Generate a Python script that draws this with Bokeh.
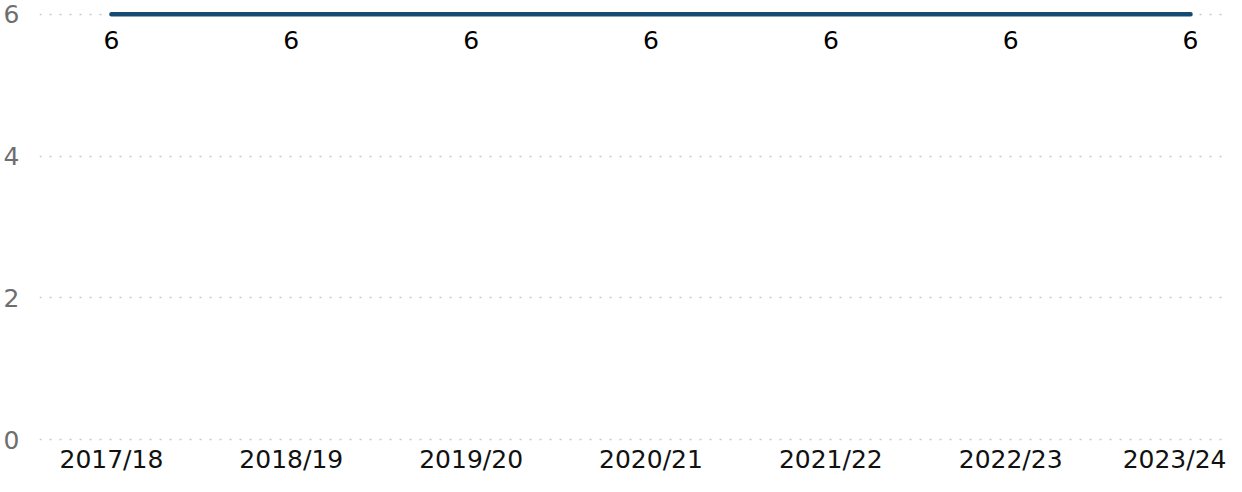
from bokeh.plotting import figure
from bokeh.models import ColumnDataSource, FixedTicker, Range1d
from bokeh.embed import file_html
from bokeh.resources import INLINE
from bokeh.core.properties import value

categories = ["2017/18", "2018/19", "2019/20", "2020/21", "2021/22", "2022/23", "2023/24"]
values = [6, 6, 6, 6, 6, 6, 6]
y_ticks = [0, 2, 4, 6]

FONT = "DejaVu Sans"
FS = "25px"

xs = list(range(len(categories)))
src = ColumnDataSource(dict(x=xs, y=values, label=[str(v) for v in values]))

p = figure(width=1226, height=476, output_backend="svg", toolbar_location=None,
           x_range=Range1d(-0.4, 6.2), y_range=Range1d(-0.028, 6.195),
           min_border_left=38, min_border_right=0, min_border_top=0, min_border_bottom=30)
p.outline_line_color = None
p.background_fill_color = "white"
p.border_fill_color = "white"

p.line("x", "y", source=src, line_color="#174a72", line_width=4.5, line_cap="round")
p.text("x", "y", text="label", source=src, text_align="center", text_baseline="middle",
       y_offset=26, text_font=value(FONT), text_font_size=FS, text_color="#000000")

p.xgrid.grid_line_color = None
p.ygrid.grid_line_color = "#c8c8c8"
p.ygrid.grid_line_width = 1.5
p.ygrid.grid_line_dash = "2 8"

p.yaxis.ticker = FixedTicker(ticks=y_ticks)
p.yaxis.axis_line_color = None
p.yaxis.major_tick_line_color = None
p.yaxis.minor_tick_line_color = None
p.yaxis.major_tick_out = 0
p.yaxis.major_label_standoff = 20
p.yaxis.major_label_text_font = FONT
p.yaxis.major_label_text_font_size = FS
p.yaxis.major_label_text_color = "#6e6e6e"

p.xaxis.ticker = FixedTicker(ticks=xs)
p.xaxis.major_label_overrides = {i: c for i, c in enumerate(categories)}
p.xaxis.axis_line_color = None
p.xaxis.major_tick_line_color = None
p.xaxis.minor_tick_line_color = None
p.xaxis.major_tick_out = 0
p.xaxis.major_label_standoff = 3
p.xaxis.major_label_text_font = FONT
p.xaxis.major_label_text_font_size = FS
p.xaxis.major_label_text_color = "#111111"

open("out.html", "w").write(file_html(p, INLINE))
